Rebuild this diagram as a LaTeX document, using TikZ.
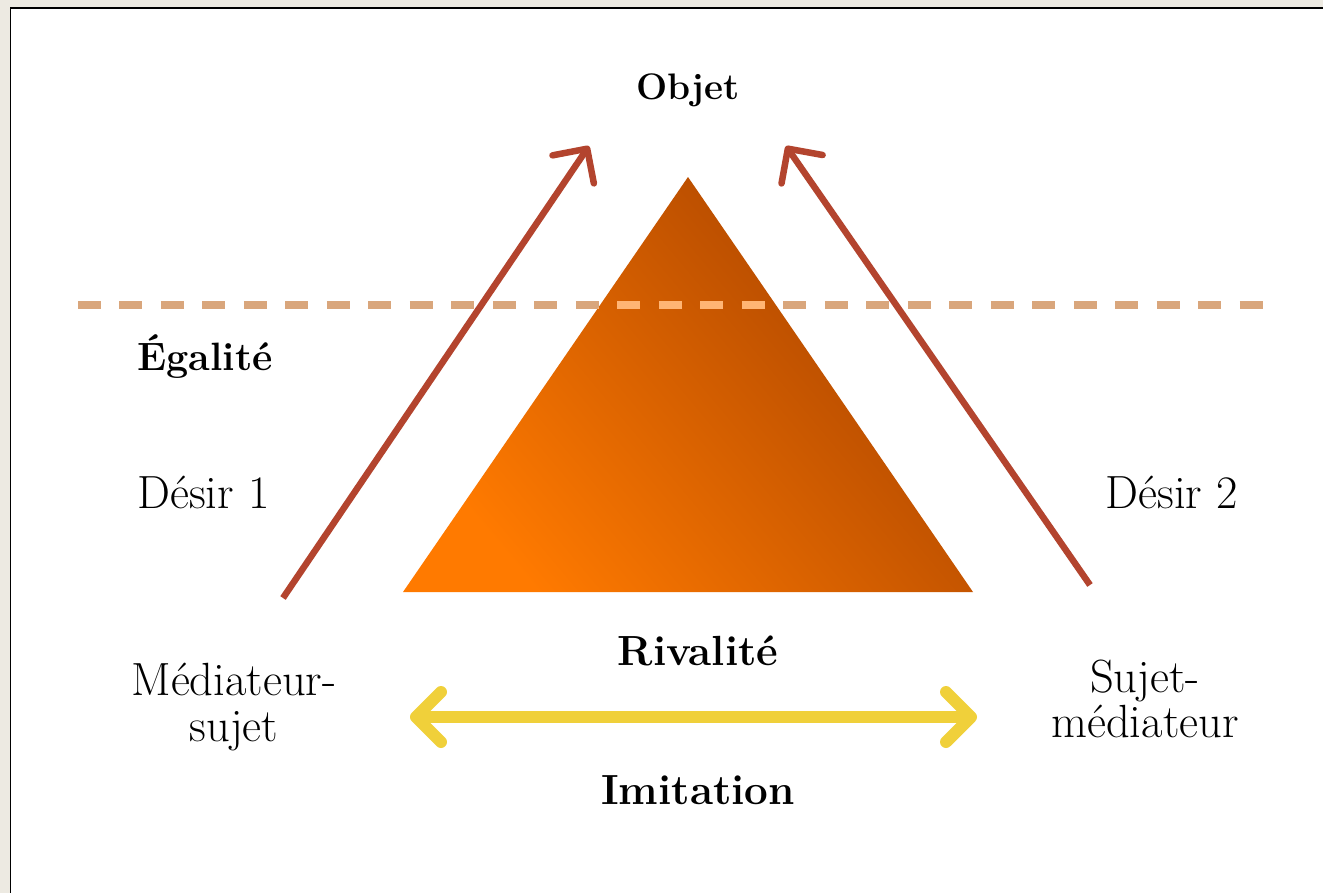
\documentclass[tikz,border=0pt]{standalone}
\usetikzlibrary{arrows.meta, positioning}
\definecolor{paper}{HTML}{EDEAE2}
\definecolor{desirered}{HTML}{B3442E}
\definecolor{imityellow}{HTML}{F0D03A}
\definecolor{dashtan}{HTML}{D9A67C}
\definecolor{dashlight}{HTML}{FFB574}
\definecolor{orangelight}{HTML}{FF7A00}
\definecolor{orangedark}{HTML}{A94300}

\begin{document}
\begin{tikzpicture}[x=0.02cm, y=-0.02cm,
    word/.style={font=\fontsize{26.5}{26}\selectfont, inner sep=0pt, align=center},
    keyword/.style={font=\fontsize{#1}{25}\selectfont\bfseries, inner sep=0pt},
    keyword/.default=24,
    desire/.style={draw=desirered, line width=0.13cm, -{Straight Barb[length=0.5cm, width=1.0cm, round]}},
    imitation/.style={draw=imityellow, line width=0.24cm,
      {Straight Barb[length=0.5cm, width=1.0cm, round]}-{Straight Barb[length=0.5cm, width=1.0cm, round]}},
    level/.style={line width=0.16cm, dash pattern=on 0.46cm off 0.37cm}
  ]
    % Frame
    \useasboundingbox (0,0) rectangle (1323,893);
    \clip (0,0) rectangle (1323,893);
    \fill[paper] (0,0) rectangle (1323,893);
    \filldraw[fill=white, draw=black, line width=0.04cm] (10.5,7.5) rectangle (1400,1000);

    % Pyramid
    \coordinate (apex) at (688,177);
    \coordinate (baseL) at (403,592);
    \coordinate (baseR) at (973,592);
    \shade[top color=orangedark, bottom color=orangelight, shading angle=-50]
      (apex) -- (baseR) -- (baseL) -- cycle;

    % Level line (lighter where it crosses the pyramid)
    \coordinate (lvlL) at (78,305);
    \coordinate (lvlR) at (1272,305);
    \draw[level, dashtan] (lvlL) -- (lvlR);
    \begin{scope}
      \clip (apex) -- (baseR) -- (baseL) -- cycle;
      \draw[level, dashlight] (lvlL) -- (lvlR);
    \end{scope}

    % Labels
    \node[keyword=21] (objet) at (688,90) {Objet};
    \node[keyword=22.5, anchor=west] (egalite) at (137,357) {Égalité};
    \node[word, anchor=west] (desir1) at (137,492) {Désir 1};
    \node[word, anchor=east] (desir2) at (1238,492) {Désir 2};
    \node[word] (med) at (234,707) {Médiateur-\\sujet};
    \node[word] (suj) at (1145,699) {Sujet-\\médiateur};
    \node[keyword] (rivalite) at (698,651) {Rivalité};
    \node[keyword] (imit) at (698,790) {Imitation};

    % Desires towards the object
    \coordinate (tail1) at (283,598);
    \coordinate (tip1) at (589,146);
    \coordinate (tail2) at (1090,585);
    \coordinate (tip2) at (786,146);
    \draw[desire] (tail1) -- (tip1);
    \draw[desire] (tail2) -- (tip2);

    % Imitation between the two subjects
    \coordinate (imL) at (410,717);
    \coordinate (imR) at (977,717);
    \draw[imitation] (imL) -- (imR);
\end{tikzpicture}
\end{document}
